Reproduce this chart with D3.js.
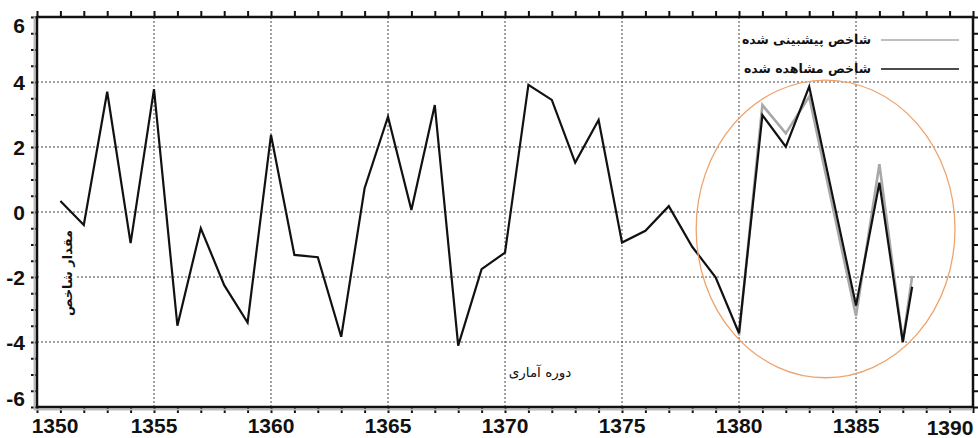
<!DOCTYPE html>
<html>
<head>
<meta charset="utf-8">
<title>Index chart</title>
<script src="https://d3js.org/d3.v7.min.js"></script>
<style>
  body { margin: 0; background: #fff; }
  .tick-label { font: bold 21px "Liberation Sans", Arial, sans-serif; fill: #111; }
  .fa { font-family: "DejaVu Sans", sans-serif; fill: #111; }
  .grid { stroke: #444; stroke-width: 1; stroke-dasharray: 2,2; }
</style>
</head>
<body>
<div id="chart"></div>
<script>
// observed index (black line)
var obsYears = [1351, 1352, 1353, 1354, 1355, 1356, 1357, 1358, 1359, 1360,
  1361, 1362, 1363, 1364, 1365, 1366, 1367, 1368, 1369, 1370,
  1371, 1372, 1373, 1374, 1375, 1376, 1377, 1378, 1379, 1380,
  1381, 1382, 1383, 1385, 1386, 1387, 1387.4];
var obsValues = [0.34, -0.4, 3.7, -0.96, 3.78, -3.5, -0.5, -2.25, -3.4, 2.37,
  -1.32, -1.39, -3.84, 0.73, 2.93, 0.06, 3.29, -4.11, -1.76, -1.25,
  3.91, 3.45, 1.52, 2.83, -0.94, -0.58, 0.18, -1.07, -2.01, -3.73,
  2.98, 2.01, 3.86, -2.88, 0.9, -4.0, -2.3];

// predicted index (grey line)
var predYears = [1380, 1381, 1382, 1383, 1385, 1386, 1387, 1387.4];
var predValues = [-3.8, 3.29, 2.42, 3.55, -3.2, 1.47, -4.0, -1.97];

var xTicks = [1350, 1355, 1360, 1365, 1370, 1375, 1380, 1385, 1390];
var yTicks = [-6, -4, -2, 0, 2, 4, 6];
var legendNames = ["شاخص پیشبینی شده", "شاخص مشاهده شده"];
var yTitle = "مقدار شاخص";
var xTitle = "دوره آماری";
// highlighted forecast region: centre year, centre value, half width (years), half height
var circle = [1383.7, -0.52, 5.53, 4.58];

var W = 978, H = 438;
var x = d3.scaleLinear().domain([1350, 1390]).range([37, 973]);
var y = d3.scaleLinear().domain([-6, 6]).range([407, 17]);

var svg = d3.select("#chart").append("svg")
  .attr("width", W).attr("height", H);

// grid
svg.append("g").selectAll("line").data(yTicks.filter(function(d) { return d > -6 && d < 6; }))
  .enter().append("line").attr("class", "grid")
  .attr("x1", x(1350)).attr("x2", x(1390))
  .attr("y1", function(d) { return y(d); }).attr("y2", function(d) { return y(d); });
svg.append("g").selectAll("line").data(xTicks.filter(function(d) { return d > 1350 && d < 1390; }))
  .enter().append("line").attr("class", "grid")
  .attr("y1", y(6)).attr("y2", y(-6))
  .attr("x1", function(d) { return x(d); }).attr("x2", function(d) { return x(d); });

// minor ticks, all pointing inward
var tickLen = 6;
svg.append("g").call(d3.axisTop(x).ticks(40).tickSize(tickLen).tickFormat(""))
  .attr("transform", "translate(0," + (y(-6) + tickLen) + ")");
svg.append("g").call(d3.axisBottom(x).ticks(40).tickSize(tickLen).tickFormat(""))
  .attr("transform", "translate(0," + (y(6) - tickLen) + ")");
svg.append("g").call(d3.axisRight(y).ticks(24).tickSize(tickLen).tickFormat(""))
  .attr("transform", "translate(" + (x(1350) - tickLen) + ",0)");
svg.append("g").call(d3.axisLeft(y).ticks(24).tickSize(tickLen).tickFormat(""))
  .attr("transform", "translate(" + (x(1390) + tickLen) + ",0)");
svg.selectAll(".domain").remove();
svg.selectAll(".tick line").attr("stroke", "#111").attr("stroke-width", 2);

// y title with a white patch behind it
svg.append("rect").attr("x", 40).attr("y", 234).attr("width", 36).attr("height", 80).attr("fill", "#fff");
svg.append("text").attr("class", "fa")
  .attr("transform", "translate(72,273) rotate(-90)")
  .attr("text-anchor", "middle")
  .style("font-size", "13px").style("font-weight", "bold")
  .text(yTitle);

svg.append("text").attr("class", "fa")
  .attr("x", 540).attr("y", 377)
  .attr("text-anchor", "middle")
  .style("font-size", "13.5px")
  .text(xTitle);

// frame
svg.append("line").attr("x1", x(1350) - 2.5).attr("x2", x(1350) - 2.5)
  .attr("y1", y(6)).attr("y2", y(-6) + 3).attr("stroke", "#bbb").attr("stroke-width", 2);
svg.append("line").attr("x1", x(1350) - 3).attr("x2", x(1390))
  .attr("y1", y(-6) + 2.5).attr("y2", y(-6) + 2.5).attr("stroke", "#bbb").attr("stroke-width", 2);
svg.append("rect").attr("x", x(1350)).attr("y", y(6))
  .attr("width", x(1390) - x(1350)).attr("height", y(-6) - y(6))
  .attr("fill", "none").attr("stroke", "#111").attr("stroke-width", 2.5);

// lines
var line = d3.line()
  .x(function(d) { return x(d[0]); })
  .y(function(d) { return y(d[1]); });

svg.append("path")
  .datum(d3.zip(predYears, predValues))
  .attr("d", line)
  .attr("fill", "none").attr("stroke", "#a8a8a8").attr("stroke-width", 2.6)
  .attr("stroke-linejoin", "miter");

svg.append("path")
  .datum(d3.zip(obsYears, obsValues))
  .attr("d", line)
  .attr("fill", "none").attr("stroke", "#111").attr("stroke-width", 2.2)
  .attr("stroke-linejoin", "miter");

svg.append("ellipse")
  .attr("cx", x(circle[0])).attr("cy", y(circle[1]))
  .attr("rx", x(circle[0] + circle[2]) - x(circle[0]))
  .attr("ry", y(circle[1] - circle[3]) - y(circle[1]))
  .attr("fill", "none").attr("stroke", "#eea36c").attr("stroke-width", 1.3);

// tick labels
svg.append("g").selectAll("text").data(xTicks).enter().append("text")
  .attr("class", "tick-label")
  .attr("text-anchor", "middle")
  .attr("x", function(d) { return Math.min(Math.max(x(d), 55), 950); })
  .attr("y", function(d) { return d === 1390 ? 435 : 433; })
  .text(function(d) { return d; });

svg.append("g").selectAll("text").data(yTicks).enter().append("text")
  .attr("class", "tick-label")
  .attr("text-anchor", "end")
  .attr("x", 25)
  .attr("y", function(d) { return Math.min(Math.max(y(d), 25), 398); })
  .attr("dy", "0.36em")
  .text(function(d) { return d; });

// legend
var legend = svg.append("g").selectAll("g").data(legendNames).enter().append("g")
  .attr("transform", function(d, i) { return "translate(0," + (40 + i * 29) + ")"; });
legend.append("line")
  .attr("x1", 881).attr("x2", 959)
  .attr("stroke", function(d, i) { return i === 0 ? "#a8a8a8" : "#111"; })
  .attr("stroke-width", 1.6);
legend.append("text").attr("class", "fa")
  .attr("x", 871).attr("dy", "0.35em")
  .attr("text-anchor", "end")
  .style("font-size", "12.5px").style("font-weight", "bold")
  .text(function(d) { return d; });
</script>
</body>
</html>
